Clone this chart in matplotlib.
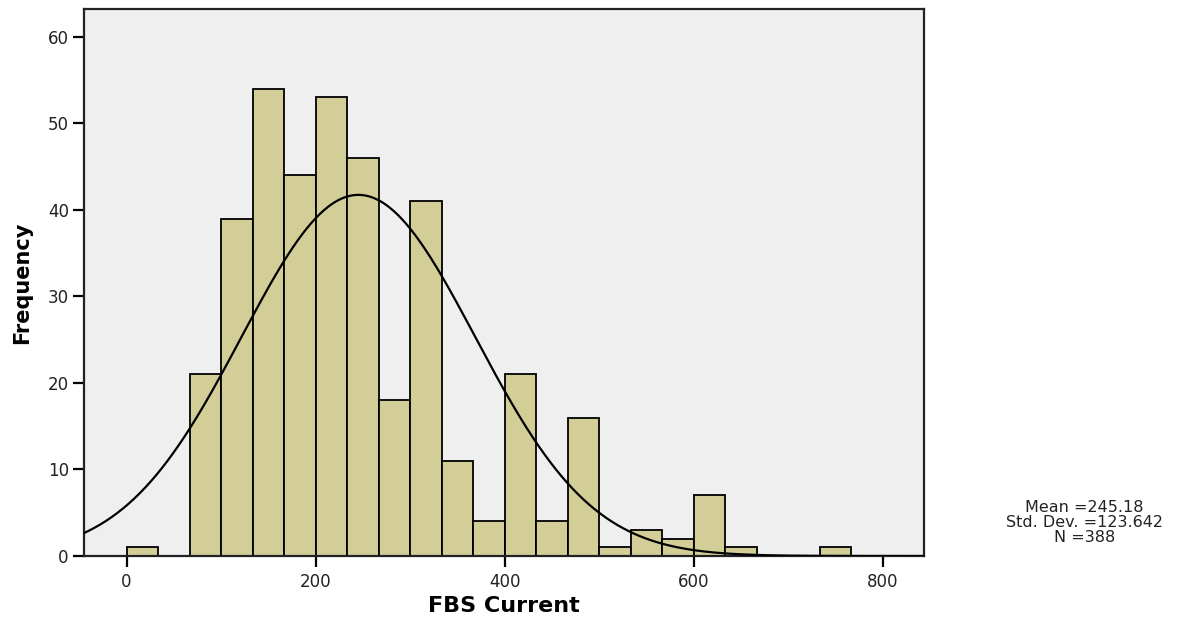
import numpy as np
import matplotlib
matplotlib.use("Agg")
import matplotlib.pyplot as plt

# histogram of FBS Current, 24 bins of width 800/24 starting at 0
bin_start = 0.0
bin_width = 800.0 / 24
counts = [1, 0, 21, 39, 54, 44, 53, 46, 18, 41, 11, 4,
          21, 4, 16, 1, 3, 2, 7, 1, 0, 0, 1, 0]

mean_val = 245.18
std_val = 123.642
n_val = 388

x_ticks = [0, 200, 400, 600, 800]
y_ticks = [0, 10, 20, 30, 40, 50, 60]

BAR = "#D3CE98"
BG = "#EFEFEF"

fig = plt.figure(figsize=(11.84, 6.18), dpi=100)
ax = fig.add_axes([0.071, 0.1003, 0.709, 0.885])
ax.set_facecolor(BG)

lefts = bin_start + bin_width * np.arange(len(counts))
ax.bar(lefts, counts, width=bin_width, align="edge", color=BAR,
       edgecolor="black", linewidth=1.3, zorder=2)

# fitted normal curve scaled to counts
xs = np.linspace(-46, 845, 600)
ys = n_val * bin_width * np.exp(-0.5 * ((xs - mean_val) / std_val) ** 2) / (std_val * np.sqrt(2 * np.pi))
ax.plot(xs, ys, color="black", lw=1.6, zorder=3)

ax.set_xlim(-45, 843)
ax.set_ylim(0, 63.2)
ax.set_xticks(x_ticks)
ax.set_yticks(y_ticks)
ax.tick_params(axis="both", direction="out", length=8, width=1.6,
               labelsize=12, colors="black", labelcolor="#222222")
ax.tick_params(axis="x", pad=4)
ax.tick_params(axis="y", pad=3)
for s in ax.spines.values():
    s.set_linewidth(1.6)
    s.set_color("#222222")

ax.set_xlabel("FBS Current", fontsize=16, fontweight="bold", labelpad=3.5)
ax.set_ylabel("Frequency", fontsize=15, fontweight="bold", labelpad=11)

fig.text(0.916, 0.155, f"Mean ={mean_val}\nStd. Dev. ={std_val}\nN ={n_val}",
         ha="center", va="center", fontsize=11.5, linespacing=1.0,
         multialignment="center", color="#222222")

fig.savefig("out.png", dpi=100)
